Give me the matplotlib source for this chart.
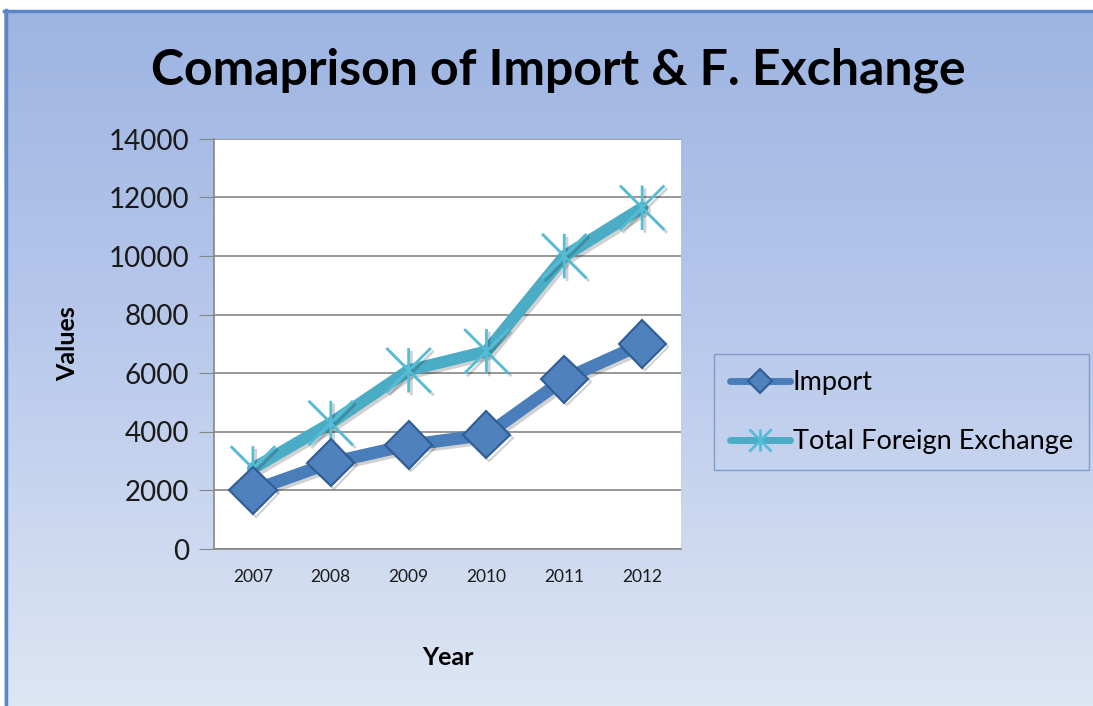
import numpy as np
import matplotlib.pyplot as plt
from matplotlib.path import Path
from matplotlib.lines import Line2D
import matplotlib.patheffects as pe

# Data
years = ["2007", "2008", "2009", "2010", "2011", "2012"]
imports = [2000, 2950, 3550, 3900, 5800, 7000]
foreign_exchange = [2750, 4300, 6100, 6750, 10000, 11650]
y_ticks = [0, 2000, 4000, 6000, 8000, 10000, 12000, 14000]

plt.rcParams['font.family'] = ['Lato', 'DejaVu Sans']

W, H = 1093, 706
fig = plt.figure(figsize=(W / 100 + 0.001, H / 100 + 0.001), dpi=100)
fig.patch.set_facecolor("white")

# gradient background of the chart area (pixel image, no resampling)
top = np.array([157, 180, 226]) / 255
mid = np.array([183, 200, 235]) / 255
bot = np.array([222, 230, 244]) / 255
t = np.linspace(0, 1, H - 10)[:, None]
grad = np.where(t < 0.45, top + (mid - top) * (t / 0.45), mid + (bot - mid) * ((t - 0.45) / 0.55))
img = np.repeat(grad[:, None, :], W, axis=1)
fig.figimage(img, xo=4, yo=0, origin="upper", zorder=-10)

# blue border on top and left
fig.add_artist(Line2D([5.5 / W, 5.5 / W], [0, 1 - 10.5 / H], color="#5a86c4", lw=2.5))
fig.add_artist(Line2D([4 / W, 1.01], [1 - 11 / H, 1 - 11 / H], color="#5a86c4", lw=2.5))

# main plot area
ax = fig.add_axes([214 / W, (H - 549) / H, (681 - 214) / W, (549 - 139) / H])
ax.set_facecolor("white")
x = np.arange(len(years))

star = Path([(0, -1), (0, 1), (-1, -1), (1, 1), (-1, 1), (1, -1)],
            [Path.MOVETO, Path.LINETO, Path.MOVETO, Path.LINETO, Path.MOVETO, Path.LINETO])
shadow = [pe.SimpleLineShadow(offset=(2, -2), alpha=0.18), pe.Normal()]

ax.plot(x, foreign_exchange, color="#4bacc6", lw=8.5, solid_capstyle="round",
        marker=star, ms=32, mec="#55bcd6", mew=2, label="Total Foreign Exchange",
        zorder=3, path_effects=shadow)
ax.plot(x, imports, color="#4a7ebb", lw=9, solid_capstyle="round",
        marker="D", ms=24, mfc="#4f81bd", mec="#2f5d96", mew=1.5, label="Import",
        zorder=4, path_effects=shadow)

ax.set_xlim(-0.5, len(years) - 0.5)
ax.set_ylim(0, 14000)
ax.set_yticks(y_ticks)
ax.set_xticks(x)
ax.set_xticklabels(years, fontsize=12.5)
ax.tick_params(axis="x", length=0, pad=14, colors="#1a1a1a")
ax.tick_params(axis="y", labelsize=20, length=11, direction="out", pad=7, labelcolor="#1a1a1a")
ax.tick_params(axis="y", color="#868686")
ax.grid(axis="y", color="#868686", lw=1.2)
ax.set_axisbelow(True)
for s in ["top", "right"]:
    ax.spines[s].set_visible(False)
for s in ["left", "bottom"]:
    ax.spines[s].set_color("#868686")
    ax.spines[s].set_linewidth(1.2)

ax.set_xlabel("Year", fontsize=18, fontweight="bold", labelpad=44)
ax.set_ylabel("Values", fontsize=18, fontweight="bold", labelpad=21)

fig.text(558 / W, 1 - 70 / H, "Comaprison of Import & F. Exchange",
         fontsize=36, fontweight="bold", ha="center", va="center")

handles, labels = ax.get_legend_handles_labels()
leg = fig.legend(handles[::-1], labels[::-1], loc="upper left",
                 bbox_to_anchor=(714 / W, 1 - 354 / H), borderaxespad=0, fontsize=19.5,
                 frameon=True, fancybox=False, handlelength=2.2, handletextpad=0.1,
                 labelspacing=1.25, borderpad=0.6, markerscale=0.5)
leg.get_frame().set_edgecolor("#6f8fbf")
leg.get_frame().set_facecolor("none")
leg.get_frame().set_linewidth(1)
for line in leg.get_lines():
    line.set_linewidth(5)
    line.set_path_effects([])

fig.savefig("out.png", dpi=100)
